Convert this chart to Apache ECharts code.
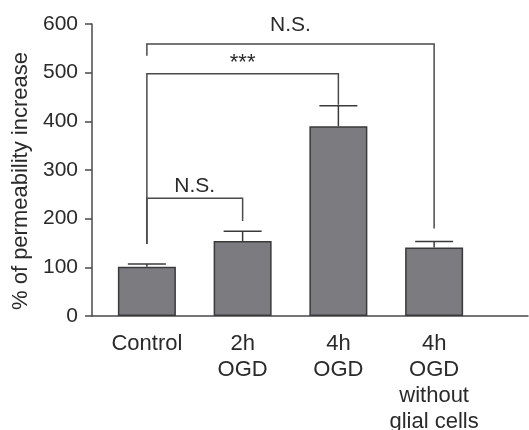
<!DOCTYPE html>
<html><head><meta charset="utf-8">
<script src="https://cdn.jsdelivr.net/npm/echarts@6/dist/echarts.min.js"></script>
<style>html,body{margin:0;padding:0;background:#fff}#c{width:529px;height:430px}</style>
</head><body><div id="c"></div>
<script>
const categories = ['Control', '2h\nOGD', '4h\nOGD', '4h\nOGD\nwithout\nglial cells'];
const means = [101, 154, 390, 141];
const errUpper = [107, 174, 432, 153];
const yTickValues = [0, 100, 200, 300, 400, 500, 600];
// significance brackets
const bracketFrom = [0, 0, 0];
const bracketTo = [3, 2, 1];
const bracketLevel = [559, 498, 242];
const bracketLeftEnd = [535, 148, 148];
const bracketRightEnd = [180, 434, 195];
const bracketLabels = ['N.S.', '***', 'N.S.'];
const bracketLabelLevel = [597, 521, 266];

const FONT = '"Liberation Sans", Arial, sans-serif';
const TXT = '#2a2a2a';
const LINE = '#4a4a4a';

const chart = echarts.init(document.getElementById('c'), null, {renderer: 'canvas'});
const bracketData = bracketFrom.map((f, i) => [f, bracketTo[i], bracketLevel[i], bracketLeftEnd[i], bracketRightEnd[i], bracketLabelLevel[i], i]);

chart.setOption({
  animation: false,
  backgroundColor: '#fff',
  grid: [
    {left: 99, width: 383, top: 24, bottom: 114, outerBoundsMode: 'none', containLabel: false},
    {left: 92, right: 1, top: 46, bottom: 114, outerBoundsMode: 'none', containLabel: false}
  ],
  xAxis: [
    {
      type: 'category', gridIndex: 0, data: categories,
      axisLine: {show: false}, axisTick: {show: false},
      axisLabel: {color: TXT, fontFamily: FONT, fontSize: 22, lineHeight: 26, margin: 15, interval: 0}
    },
    {
      type: 'value', gridIndex: 1, min: 0, max: 1,
      axisLine: {show: true, lineStyle: {color: LINE, width: 1.5}},
      axisTick: {show: false}, axisLabel: {show: false}, splitLine: {show: false}
    }
  ],
  yAxis: [
    {
      type: 'value', gridIndex: 0, min: yTickValues[0], max: yTickValues[yTickValues.length - 1], interval: 100,
      offset: 7,
      axisLine: {show: true, lineStyle: {color: LINE, width: 1.5}},
      axisTick: {show: true, length: 7, lineStyle: {color: LINE, width: 1.5}},
      axisLabel: {color: TXT, fontFamily: FONT, fontSize: 21, margin: 14},
      splitLine: {show: false}
    },
    {
      type: 'value', gridIndex: 1, min: 0, max: 1,
      name: '% of permeability increase', nameLocation: 'middle', nameGap: 60,
      nameTextStyle: {color: TXT, fontFamily: FONT, fontSize: 22},
      axisLine: {show: false}, axisTick: {show: false}, axisLabel: {show: false}, splitLine: {show: false}
    }
  ],
  series: [
    {
      type: 'bar', xAxisIndex: 0, yAxisIndex: 0, data: means, barWidth: 58,
      itemStyle: {color: '#7c7c80', borderColor: '#3a3a3a', borderWidth: 1.5}
    },
    {
      type: 'custom', xAxisIndex: 0, yAxisIndex: 0,
      data: means.map((m, i) => [i, m, errUpper[i]]),
      encode: {x: 0, y: [1, 2]},
      z: 3,
      renderItem: function (params, api) {
        const base = api.coord([api.value(0), api.value(1)]);
        const top = api.coord([api.value(0), api.value(2)]);
        const half = 19;
        return {
          type: 'group',
          children: [
            {type: 'line', shape: {x1: base[0], y1: base[1], x2: top[0], y2: top[1]}, style: {stroke: '#3a3a3a', lineWidth: 1.5}},
            {type: 'line', shape: {x1: top[0] - half, y1: top[1], x2: top[0] + half, y2: top[1]}, style: {stroke: '#3a3a3a', lineWidth: 1.5}}
          ]
        };
      }
    },
    {
      type: 'custom', xAxisIndex: 0, yAxisIndex: 0, clip: false,
      data: bracketData,
      encode: {x: [0, 1], y: [2, 3, 4, 5]},
      z: 4,
      renderItem: function (params, api) {
        const f = api.value(0), t = api.value(1);
        const lv = api.value(2), le = api.value(3), re = api.value(4), ll = api.value(5);
        const idx = api.value(6);
        const pL = api.coord([f, lv]);
        const pR = api.coord([t, lv]);
        const pLE = api.coord([f, le]);
        const pRE = api.coord([t, re]);
        const pLab = api.coord([f, ll]);
        const midX = (pL[0] + pR[0]) / 2;
        const isStar = bracketLabels[idx] === '***';
        return {
          type: 'group',
          children: [
            {type: 'polyline', shape: {points: [[pLE[0], pLE[1]], [pL[0], pL[1]], [pR[0], pR[1]], [pRE[0], pRE[1]]]},
             style: {stroke: LINE, lineWidth: 1.5, fill: null}},
            {type: 'text', style: {x: midX, y: pLab[1], text: bracketLabels[idx], align: 'center', verticalAlign: 'middle',
             fill: TXT, font: (isStar ? '22px ' : '21px ') + FONT}}
          ]
        };
      }
    }
  ]
});
</script>
</body></html>
